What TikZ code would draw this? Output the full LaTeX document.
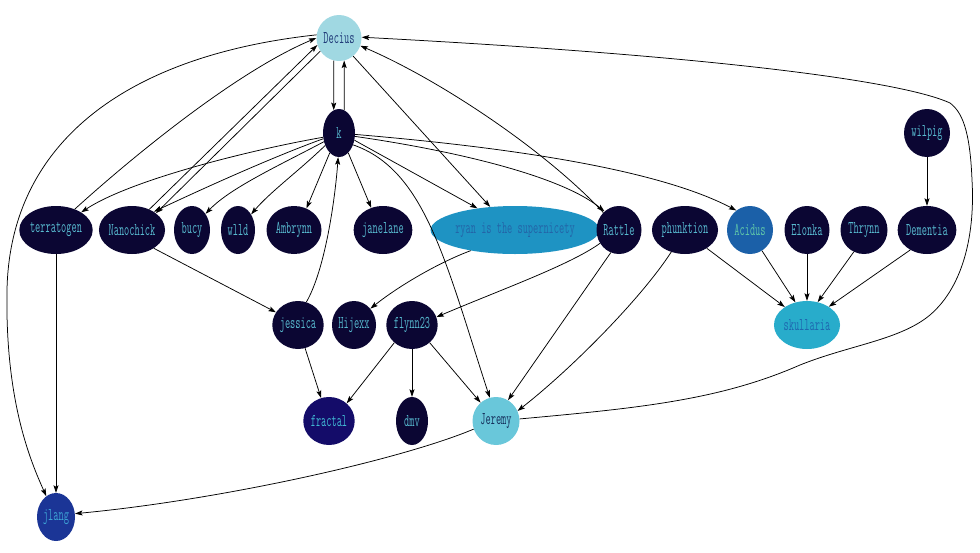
\documentclass[tikz,border=0pt]{standalone}
\usetikzlibrary{arrows.meta,shapes.geometric}
\definecolor{dk}{HTML}{0B0633}
\definecolor{dktxt}{HTML}{57B9CF}
\definecolor{deciusf}{HTML}{A0D8E2}
\definecolor{deciust}{HTML}{1F3A78}
\definecolor{jeremyf}{HTML}{69C7DA}
\definecolor{jeremyt}{HTML}{15305C}
\definecolor{ryanf}{HTML}{1E93C3}
\definecolor{ryant}{HTML}{2365A8}
\definecolor{acidusf}{HTML}{1B60A8}
\definecolor{acidust}{HTML}{5FC6A8}
\definecolor{skullf}{HTML}{28ACCB}
\definecolor{skullt}{HTML}{1E68B0}
\definecolor{fractalf}{HTML}{140C69}
\definecolor{fractalt}{HTML}{40B7D2}
\definecolor{jlangf}{HTML}{1B3596}
\definecolor{jlangt}{HTML}{3DA3D6}
\newcommand\lbl[1]{\scalebox{0.56}[1]{#1}}
\tikzset{
  gnode/.style={ellipse, inner sep=0pt, minimum height=48pt,
    font=\fontsize{18}{18}\selectfont\ttfamily},
  dknode/.style={gnode, fill=dk, text=dktxt},
  edge/.style={line width=0.75pt, draw=black,
    -{Stealth[length=7.5pt,width=5pt,inset=1.5pt]}}
}
\begin{document}
\begin{tikzpicture}[x=1pt,y=-1pt]
\useasboundingbox (0,0) rectangle (980,552);
% nodes
\node[gnode, fill=deciusf, text=deciust, minimum width=45pt, minimum height=46pt] (Decius) at (339,38) {\lbl{Decius}};
\node[dknode, minimum width=32pt] (k) at (339,133) {\lbl{k}};
\node[dknode, minimum width=46pt] (wilpig) at (927,133) {\lbl{wilpig}};
\node[dknode, minimum width=66pt] (terratogen) at (56,230) {\lbl{terratogen}};
\node[dknode, minimum width=62pt] (Nanochick) at (132,230) {\lbl{Nanochick}};
\node[dknode, minimum width=36pt] (bucy) at (192,230) {\lbl{bucy}};
\node[dknode, minimum width=34pt] (wlld) at (238,230) {\lbl{wlld}};
\node[dknode, minimum width=55pt] (Ambrynn) at (294,230) {\lbl{Ambrynn}};
\node[dknode, minimum width=54pt] (janelane) at (383,230) {\lbl{janelane}};
\node[gnode, fill=ryanf, text=ryant, minimum width=142pt] (ryan) at (515,230) {\lbl{ryan is the supernicety}};
\node[dknode, minimum width=45pt] (Rattle) at (619,230) {\lbl{Rattle}};
\node[dknode, minimum width=63pt] (phunktion) at (685,230) {\lbl{phunktion}};
\node[gnode, fill=acidusf, text=acidust, minimum width=46pt] (Acidus) at (750,230) {\lbl{Acidus}};
\node[dknode, minimum width=45pt] (Elonka) at (807,230) {\lbl{Elonka}};
\node[dknode, minimum width=47pt] (Thrynn) at (864,230) {\lbl{Thrynn}};
\node[dknode, minimum width=57pt] (Dementia) at (927,230) {\lbl{Dementia}};
\node[dknode, minimum width=47pt] (jessica) at (298,325) {\lbl{jessica}};
\node[dknode, minimum width=44pt] (Hijexx) at (354,325) {\lbl{Hijexx}};
\node[dknode, minimum width=50pt] (flynn23) at (412,325) {\lbl{flynn23}};
\node[gnode, fill=skullf, text=skullt, minimum width=59pt] (skullaria) at (807,325) {\lbl{skullaria}};
\node[gnode, fill=fractalf, text=fractalt, minimum width=49pt] (fractal) at (329,421) {\lbl{fractal}};
\node[dknode, minimum width=32pt] (dmv) at (412,421) {\lbl{dmv}};
\node[gnode, fill=jeremyf, text=jeremyt, minimum width=47pt] (Jeremy) at (496,421) {\lbl{Jeremy}};
\node[gnode, fill=jlangf, text=jlangt, minimum width=38pt] (jlang) at (56,517) {\lbl{jlang}};
% edges
\draw[edge] (Decius.257) -- (k.103);
\draw[edge] (k.77) -- (Decius.283);
\draw[edge] (Decius.-52) -- (ryan.137);
\draw[edge] (Rattle.132) .. controls (545,150) and (440,80) .. (Decius.-20);
\draw[edge] (Decius.215) -- (Nanochick.35);
\draw[edge] (Nanochick.50) -- (Decius.198);
\draw[edge] (terratogen.48) .. controls (140,150) and (240,70) .. (Decius.180);
\draw[edge] (Decius.172) .. controls (130,55) and (10,140) .. (7,290)
   .. controls (5,400) and (30,460) .. (jlang.115);
\draw[edge] (terratogen.south) -- (jlang.north);
\draw[edge] (k.195) .. controls (250,150) and (130,180) .. (terratogen.35);
\draw[edge] (k.200) .. controls (270,158) and (200,190) .. (Nanochick.40);
\draw[edge] (k.210) .. controls (280,165) and (230,188) .. (bucy.50);
\draw[edge] (k.222) .. controls (300,170) and (270,192) .. (wlld.50);
\draw[edge] (k.245) -- (Ambrynn.60);
\draw[edge] (k.-65) -- (janelane.118);
\draw[edge] (k.-25) -- (ryan.150);
\draw[edge] (k.-12) .. controls (450,150) and (560,175) .. (Rattle.128);
\draw[edge] (k.-5) .. controls (480,145) and (650,165) .. (Acidus.125);
\draw[edge] (k.-40) .. controls (425,170) and (445,260) .. (Jeremy.105);
\draw[edge] (jessica.70) .. controls (325,270) and (335,200) .. (k.-92);
\draw[edge] (Nanochick.-40) -- (jessica.150);
\draw[edge] (jessica.-73) -- (fractal.109);
\draw[edge] (ryan.205) .. controls (440,262) and (400,285) .. (Hijexx.45);
\draw[edge] (Rattle.215) .. controls (570,265) and (500,290) .. (flynn23.18);
\draw[edge] (Rattle.-110) -- (Jeremy.60);
\draw[edge] (phunktion.-122) .. controls (640,300) and (570,370) .. (Jeremy.25);
\draw[edge] (phunktion.-40) -- (skullaria.141);
\draw[edge] (Acidus.-60) -- (skullaria.117);
\draw[edge] (Elonka.south) -- (skullaria.north);
\draw[edge] (Thrynn.-115) -- (skullaria.65);
\draw[edge] (Dementia.-130) -- (skullaria.40);
\draw[edge] (wilpig.south) -- (Dementia.north);
\draw[edge] (flynn23.-135) -- (fractal.45);
\draw[edge] (flynn23.south) -- (dmv.north);
\draw[edge] (flynn23.-45) -- (Jeremy.130);
\draw[edge] (Jeremy.-160) .. controls (400,460) and (220,500) .. (jlang.10);
\draw[edge] (Jeremy.5) .. controls (640,408) and (720,400) .. (800,365)
   .. controls (850,345) and (900,340) .. (930,315)
   .. controls (965,285) and (975,230) .. (972,180)
   .. controls (970,130) and (962,112) .. (950,103)
   .. controls (900,80) and (700,55) .. (Decius.2);
\end{tikzpicture}
\end{document}
